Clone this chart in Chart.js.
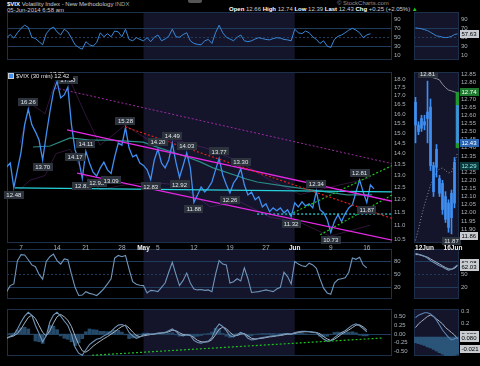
<!DOCTYPE html>
<html lang="en">
<head>
<meta charset="UTF-8">
<title>$VIX 30 min</title>
<script src="https://cdn.jsdelivr.net/npm/chart.js"></script>
<style>
  body { margin: 0; background: #000; width: 480px; height: 366px; overflow: hidden; position: relative;
         font-family: "Liberation Sans", Arial, sans-serif; }
  canvas { position: absolute; }
  .hd { position: absolute; font-size: 6px; line-height: 7px; color: #c9ced4; white-space: nowrap; }
  .hd b { color: #fff; }
</style>
</head>
<body>
<div class="hd" style="left:7px;top:1px"><b>$VIX</b> Volatility Index - New Methodology <span style="color:#9aa">INDX</span></div>
<div class="hd" style="left:7px;top:7px">05-Jun-2014 6:58 am</div>
<div class="hd" style="left:337px;top:0px;color:#8c9096">© StockCharts.com</div>
<div class="hd" style="left:229px;top:6px"><b>Open</b> 12.66 <b>High</b> 12.74 <b>Low</b> 12.39 <b>Last</b> 12.43 <b>Chg</b> +0.25 (+2.05%) <span style="color:#2c2">▲</span></div>
<div style="position:absolute;left:188px;top:0;width:14px;height:3px;background:#555;border-radius:0 0 2px 2px"></div>

<canvas id="rsiL" width="414" height="58" style="left:0;top:12px"></canvas>
<canvas id="rsiR" width="66" height="58" style="left:414px;top:12px"></canvas>
<canvas id="stoL" width="414" height="60" style="left:0;top:249px"></canvas>
<canvas id="stoR" width="66" height="60" style="left:414px;top:249px"></canvas>
<canvas id="macdL" width="414" height="57" style="left:0;top:309px"></canvas>
<canvas id="macdR" width="66" height="57" style="left:414px;top:309px"></canvas>
<canvas id="mainL" width="414" height="181" style="left:0;top:72px"></canvas>
<canvas id="mainR" width="66" height="181" style="left:414px;top:72px"></canvas>

<script>
// ---- time axis: trading days counted from Mon 7 Apr 2014, half-day bars ----
const tickDays   = [0, 5, 9, 14, 17, 19, 24, 29, 34, 38, 43, 48];
const tickLabels = ['7', '14', '21', '28', 'May', '5', '12', '19', '27', 'Jun', '9', '16'];
const monthBand  = [17, 38];          // May is shaded
const firstDay = -2, stepDay = 0.5;

// ---- $VIX 30 min ----
const vix = [13.38, 13.56, 12.48, 13.25, 14.07, 15.42, 16.26, 15.42, 15.06, 14.65,
  13.70, 14.90, 16.10, 17.23, 17.85, 16.88, 17.05, 17.50, 15.42, 14.17,
  13.70, 12.87, 14.11, 13.56, 13.15, 12.98, 13.34, 13.60, 13.25, 13.09,
  13.84, 14.50, 14.40, 15.28, 14.26, 13.84, 13.93, 13.56, 13.45, 13.25,
  12.83, 13.70, 14.20, 13.56, 13.34, 13.70, 14.49, 13.60, 12.92, 13.45,
  14.03, 13.34, 11.88, 12.18, 12.51, 12.30, 12.47, 12.72, 13.25, 13.77,
  13.02, 12.60, 12.26, 12.68, 12.90, 13.30, 12.60, 12.18, 12.30, 11.98,
  12.10, 11.70, 11.82, 11.51, 11.66, 11.55, 11.66, 11.47, 11.59, 11.32,
  11.86, 11.70, 11.90, 11.74, 11.82, 11.66, 12.34, 11.59, 11.47, 11.21,
  10.73, 11.14, 11.40, 11.14, 11.44, 11.66, 11.78, 12.30, 12.81, 12.30,
  11.87, 12.60, 12.43];
const maDays = [1.67, 4.03, 6.81, 9.58, 12.36, 16.94, 19.31, 23.06, 24.86, 26.67, 31.39, 32.78, 37.36, 40.56, 45.28, 48.75];
const maVals = [14.31, 14.36, 14.76, 14.65, 14.65, 14.55, 14.26, 13.84, 13.61, 13.34, 12.84, 12.72, 12.51, 12.38, 12.18, 12.18];
// faint envelope around price
const envDays  = [-0.14, 1.25, 3.33, 4.86, 6.81, 8.89, 10.97, 14.44, 17.92, 22.08, 26.25, 30.42, 34.58, 38.75, 42.92, 48.47];
const envUpper = [14.5, 16.6, 16.0, 18.0, 17.9, 16.0, 14.4, 15.4, 14.6, 14.6, 14.2, 13.6, 12.8, 12.2, 12.5, 12.9];
const envLower = [12.4, 12.8, 13.0, 14.0, 14.2, 13.0, 12.4, 12.6, 12.7, 12.6, 11.7, 11.9, 11.3, 11.1, 10.6, 11.0];
// marked highs (1) and lows (-1)
const marks = [[-1, 12.48, -1], [1, 16.26, 1], [3, 13.70, -1], [5, 17.85, 1], [6.5, 17.50, 1], [7.5, 14.17, -1],
  [8.5, 12.87, -1], [9, 14.11, 1], [10.5, 12.98, -1], [12.5, 13.09, -1], [14.5, 15.28, 1], [18, 12.83, -1],
  [19, 14.20, 1], [21, 14.49, 1], [22, 12.92, -1], [23, 14.03, 1], [24, 11.88, -1], [27.5, 13.77, 1],
  [29, 12.26, -1], [30.5, 13.30, 1], [37.5, 11.32, -1], [41, 12.34, 1], [43, 10.73, -1], [47, 12.81, 1], [48, 11.87, -1]];
const mainTicks = [10.5, 11, 11.5, 12, 12.5, 13, 13.5, 14, 14.5, 15, 15.5, 16, 16.5, 17, 17.5, 18];

// drawn trend lines [day, value]
const fanTop   = [[4.72, 17.46], [52.64, 13.45]];
const redLine  = [[14.44, 15.31], [51.94, 11.21]];
const chUpper  = [[6.39, 15.16], [52.64, 11.85]];
const chLower  = [[7.78, 13.11], [52.64, 10.40]];
const cyanLine = [[-0.83, 12.47], [52.64, 12.30]];
const cyanDash = [[32.78, 11.42], [52.64, 11.42]];
const greenUp  = [[37.78, 11.47], [52.64, 13.62]];
const greenLow = [[41.53, 10.65], [52.64, 12.36]];

// ---- RSI (top) ----
const rsi = [49, 56, 48, 60, 70, 77, 72, 50, 47, 40,
  33, 58, 68, 73, 62, 55, 68, 62, 48, 33,
  27, 23, 40, 33, 30, 38, 60, 51, 58, 51,
  64, 62, 51, 68, 45, 42, 49, 45, 42, 49,
  40, 50, 55, 42, 46, 52, 68, 51, 50, 56,
  60, 42, 36, 34, 33, 42, 45, 36, 60, 77,
  60, 50, 46, 42, 50, 55, 42, 40, 42, 46,
  49, 47, 45, 44, 47, 49, 48, 45, 44, 42,
  68, 60, 58, 64, 60, 51, 45, 36, 42, 30,
  27, 45, 52, 55, 60, 66, 70, 66, 60, 49,
  55, 58];
const rsiTicks = [10, 30, 50, 70, 90];

// ---- Stochastic ----
const sto = [10, 24, 28, 82, 96, 95, 84, 72, 68, 50,
  39, 80, 91, 97, 82, 74, 86, 84, 50, 20,
  1, 2, 10, 6, 4, 1, 8, 17, 28, 40,
  88, 94, 91, 94, 62, 33, 27, 25, 24, 7,
  13, 12, 10, 20, 30, 55, 78, 50, 24, 36,
  53, 30, 16, 14, 15, 13, 14, 10, 50, 82,
  74, 72, 30, 33, 40, 35, 65, 40, 8, 9,
  10, 12, 14, 12, 10, 16, 20, 55, 45, 28,
  80, 74, 70, 68, 76, 72, 64, 40, 18, 7,
  4, 30, 38, 40, 42, 55, 88, 85, 90, 72,
  65];
const stoTicks = [20, 50, 80];

// ---- MACD ----
const macd = [-0.13, -0.06, -0.02, 0.15, 0.35, 0.52, 0.63, 0.54, 0.25, 0.02,
  -0.22, -0.05, 0.35, 0.55, 0.63, 0.52, 0.38, 0.25, 0.0, -0.38,
  -0.55, -0.61, -0.45, -0.30, -0.22, -0.15, -0.12, -0.05, 0.0, 0.08,
  0.18, 0.26, 0.28, 0.24, 0.05, -0.05, -0.12, -0.08, -0.02, 0.0,
  0.0, 0.01, 0.03, 0.04, 0.05, 0.10, 0.15, 0.08, -0.02, -0.05,
  -0.02, -0.04, -0.18, -0.24, -0.26, -0.22, -0.20, -0.10, 0.15, 0.29,
  0.22, 0.10, -0.05, -0.08, -0.02, 0.05, 0.0, -0.12, -0.17, -0.15,
  -0.12, -0.10, -0.08, -0.06, -0.05, -0.04, -0.02, 0.0, 0.02, 0.0,
  0.05, 0.07, 0.08, 0.08, 0.07, 0.05, 0.04, -0.05, -0.14, -0.20,
  -0.19, -0.10, -0.02, 0.05, 0.10, 0.18, 0.26, 0.30, 0.24, 0.16,
  0.07];
const signal = [-0.10, -0.08, -0.05, 0.02, 0.15, 0.32, 0.48, 0.55, 0.45, 0.25,
  0.05, -0.05, 0.10, 0.32, 0.50, 0.57, 0.50, 0.40, 0.22, -0.05,
  -0.30, -0.48, -0.52, -0.45, -0.35, -0.27, -0.20, -0.13, -0.07, 0.0,
  0.07, 0.15, 0.22, 0.26, 0.18, 0.06, -0.04, -0.07, -0.05, -0.03,
  -0.01, 0.0, 0.02, 0.03, 0.04, 0.07, 0.11, 0.10, 0.04, -0.01,
  -0.02, -0.03, -0.10, -0.18, -0.22, -0.23, -0.22, -0.16, -0.02, 0.14,
  0.20, 0.16, 0.05, -0.03, -0.04, 0.0, 0.02, -0.05, -0.12, -0.14,
  -0.13, -0.12, -0.10, -0.08, -0.07, -0.05, -0.04, -0.02, 0.0, 0.0,
  0.02, 0.05, 0.06, 0.07, 0.07, 0.06, 0.05, 0.01, -0.07, -0.14,
  -0.18, -0.15, -0.08, 0.0, 0.06, 0.12, 0.19, 0.26, 0.27, 0.21,
  0.12];
const hist = [-0.03, 0.02, 0.03, 0.12, 0.18, 0.20, 0.15, 0.0, -0.20, -0.22,
  -0.27, 0.0, 0.25, 0.23, 0.13, -0.05, -0.12, -0.15, -0.22, -0.33,
  -0.25, -0.13, 0.07, 0.15, 0.13, 0.12, 0.08, 0.08, 0.07, 0.08,
  0.11, 0.11, 0.06, -0.02, -0.13, -0.11, -0.08, -0.01, 0.03, 0.03,
  0.01, 0.01, 0.01, 0.01, 0.01, 0.03, 0.04, -0.02, -0.06, -0.04,
  0.0, -0.01, -0.08, -0.06, -0.04, 0.01, 0.02, 0.06, 0.17, 0.15,
  0.02, -0.06, -0.10, -0.05, 0.02, 0.05, -0.02, -0.07, -0.05, -0.01,
  0.01, 0.02, 0.02, 0.02, 0.02, 0.01, 0.02, 0.02, 0.02, 0.0,
  0.03, 0.02, 0.02, 0.01, 0.0, -0.01, -0.01, -0.06, -0.07, -0.06,
  -0.01, 0.05, 0.06, 0.05, 0.04, 0.06, 0.07, 0.04, -0.03, -0.05,
  -0.05];
const macdTicks = [-0.5, -0.25, 0, 0.25, 0.5];
const macdTrend = [[9.86, -0.61], [50.28, -0.11]];

// ---- right side: last bars, 12 Jun - 16 Jun ----
const sideTicks  = [3, 12.5];
const sideLabels = ['12Jun', '16Jun'];
const candleOpen  = [12.68, 12.54, 12.58, 12.56, 12.62, 12.65, 12.29, 12.39, 12.21, 12.18, 12.10, 12.06, 12.12, 12.31, 12.43];
const candleClose = [12.54, 12.50, 12.52, 12.54, 12.58, 12.29, 12.13, 12.28, 12.12, 12.02, 11.96, 11.91, 11.97, 12.06, 12.66];
const candleHigh  = [12.71, 12.56, 12.60, 12.60, 12.81, 12.70, 12.31, 12.42, 12.23, 12.20, 12.13, 12.08, 12.14, 12.34, 12.74];
const candleLow   = [12.43, 12.48, 12.50, 12.51, 12.43, 12.26, 12.10, 12.22, 12.10, 11.99, 11.94, 11.88, 11.87, 12.03, 12.40];
const bandTop = [null, null, 12.85, 12.85, 12.84, 12.835, 12.83, 12.825, 12.817, 12.79, 12.77, 12.755, 12.75, 12.743, 12.74];
const bandMid = [11.83, 11.90, 11.98, 12.05, 12.11, 12.17, 12.21, 12.25, 12.27, 12.275, 12.26, 12.245, 12.25, 12.30, 12.37];
const sideTicksMain = [11.85, 11.90, 11.95, 12.00, 12.05, 12.10, 12.15, 12.20, 12.25, 12.30, 12.35, 12.40, 12.45,
  12.50, 12.55, 12.60, 12.65, 12.70, 12.75, 12.80, 12.85];
const sideRsi   = [71, 70, 69, 67, 65, 61, 57, 53, 52, 50, 49, 50, 52, 56, 57.63];
const sideStoK  = [99, 97, 95, 92, 88, 82, 78, 74, 70, 67, 63, 60, 62, 66, 72];
const sideStoD  = [96, 96, 94, 92, 90, 86, 82, 78, 74, 70, 66, 63, 62, 64, 70];
const sideMacd  = [0.25, 0.27, 0.28, 0.29, 0.29, 0.28, 0.26, 0.23, 0.19, 0.15, 0.12, 0.09, 0.07, 0.08, 0.09];
const sideSig   = [0.17, 0.20, 0.22, 0.24, 0.26, 0.27, 0.26, 0.24, 0.22, 0.20, 0.17, 0.15, 0.13, 0.11, 0.08];
const sideHistTop = 0.093;
const sideHist  = [0.047, 0.04, 0.033, 0.025, 0.013, 0.005, -0.007, -0.02, -0.033, -0.045, -0.06, -0.06, -0.06, -0.055, -0.047];

// ---- styling ----
const FONT = '"Liberation Sans", Arial, sans-serif';
const NAVY = '#14142a';
const FRAME = '#1c3149';
const GUIDE = '#1f3c5c';
const BLUE = '#3f8ff2';
const AXC = '#a9b1ba';

const pts = (xs, ys) => ys.map((v, i) => ({ x: xs[i], y: v }));
const seg = p => p.map(([x, y]) => ({ x, y }));
const dayAxis = n => Array.from({ length: n }, (_, i) => firstDay + i * stepDay);
const slots = candleOpen.map((_, i) => i);

const line = (data, color, width, dash, order) => ({
  type: 'line', data, borderColor: color, borderWidth: width, borderDash: dash || [],
  pointRadius: 0, fill: false, tension: 0, order: order || 0
});

const decoPlugin = {
  id: 'deco',
  beforeDraw(chart, args, o) {
    const { ctx, chartArea: a, scales: { x, y } } = chart;
    ctx.save();
    ctx.fillStyle = NAVY;
    if (o.allNavy) ctx.fillRect(a.left, a.top, a.width, a.height);
    else {
      const x0 = x.getPixelForValue(monthBand[0]), x1 = x.getPixelForValue(monthBand[1]);
      ctx.fillRect(x0, a.top, x1 - x0, a.height);
    }
    ctx.lineWidth = 1;
    (o.guides || []).forEach(([v, dashed]) => {
      const py = Math.round(y.getPixelForValue(v)) + 0.5;
      ctx.strokeStyle = GUIDE;
      ctx.setLineDash(dashed ? [2, 2] : []);
      ctx.beginPath(); ctx.moveTo(a.left, py); ctx.lineTo(a.right, py); ctx.stroke();
    });
    ctx.setLineDash([]);
    ctx.strokeStyle = FRAME;
    ctx.strokeRect(a.left + 0.5, a.top + 0.5, a.width - 1, a.height - 1);
    ctx.restore();
  },
  afterDatasetsDraw(chart, args, o) {
    const { ctx, chartArea: a, scales: { x, y } } = chart;
    ctx.save();
    ctx.font = '6px ' + FONT;
    ctx.textBaseline = 'middle';
    (o.marks || []).forEach(([d, v, side]) => {
      const t = v.toFixed(2);
      const w = Math.ceil(ctx.measureText(t).width) + 4;
      const px = x.getPixelForValue(d), py = y.getPixelForValue(v) - side * 7;
      ctx.fillStyle = '#2c333c';
      ctx.fillRect(Math.round(px - w / 2), Math.round(py - 4), w, 8);
      ctx.fillStyle = '#e3e6ea';
      ctx.textAlign = 'center';
      ctx.fillText(t, px, py + 0.5);
    });
    (o.tags || []).forEach(([v, t, bg, fg]) => {
      const py = Math.round(y.getPixelForValue(v));
      const w = Math.ceil(ctx.measureText(t).width) + 3;
      ctx.fillStyle = bg;
      ctx.fillRect(a.right + 1, py - 4, w, 8);
      ctx.fillStyle = fg;
      ctx.textAlign = 'left';
      ctx.fillText(t, a.right + 2.5, py + 0.5);
    });
    if (o.legend) {
      const w = Math.ceil(ctx.measureText(o.legend).width);
      ctx.fillStyle = '#000';
      ctx.fillRect(a.left + 1, a.top + 1, w + 11, 7);
      ctx.fillStyle = BLUE;
      ctx.fillRect(a.left + 2, a.top + 2, 4, 4);
      ctx.strokeStyle = '#ccc';
      ctx.strokeRect(a.left + 1.5, a.top + 1.5, 5, 5);
      ctx.fillStyle = '#e6e6e6';
      ctx.textAlign = 'left';
      ctx.fillText(o.legend, a.left + 9, a.top + 4.5);
    }
    ctx.restore();
  }
};

function xAxis(min, max, show, ticks, labels) {
  const strong = i => /[A-Z]/.test(labels[i]);
  return {
    type: 'linear', min, max, display: show, offset: false,
    grid: { display: false, drawTicks: false, offset: false }, border: { display: false },
    afterBuildTicks: s => { s.ticks = ticks.map(v => ({ value: v })); },
    afterFit: s => { s.height = 10; s.paddingLeft = 0; s.paddingRight = 0; },
    ticks: {
      autoSkip: false, maxRotation: 0, padding: 1,
      callback: v => labels[ticks.indexOf(v)],
      color: c => strong(c.index) ? '#f0f0f0' : AXC,
      font: c => ({ size: 6.5, family: FONT, weight: strong(c.index) ? 'bold' : 'normal' })
    }
  };
}

function yAxis(min, max, ticks, width, fmt, type) {
  return {
    type: type || 'linear', position: 'right', min, max,
    grid: { display: false, drawTicks: false }, border: { display: false },
    afterBuildTicks: s => { s.ticks = ticks.map(v => ({ value: v })); },
    afterFit: s => { s.width = width; s.paddingTop = 0; s.paddingBottom = 0; },
    ticks: { autoSkip: false, padding: 2, color: AXC, font: { size: 6, family: FONT }, callback: fmt || (v => v) }
  };
}

function panel(id, datasets, x, y, deco, padLeft) {
  return new Chart(document.getElementById(id), {
    type: 'line',
    data: { datasets },
    options: {
      responsive: false, animation: false, events: [],
      layout: { padding: { left: padLeft, right: 0, top: 0, bottom: 0 } },
      scales: { x, y },
      plugins: { legend: { display: false }, tooltip: { enabled: false }, deco }
    },
    plugins: [decoPlugin]
  });
}

const LX = (show) => xAxis(-1.95, 51.5, show, tickDays, tickLabels);
const RX = (show) => xAxis(-0.5, 14.5, show, sideTicks, sideLabels);
const grey = '#c8ccd0';

// top: RSI
panel('rsiL', [line(pts(dayAxis(rsi.length), rsi), '#3a88d8', 1)],
  LX(false), yAxis(-1.2, 106.7, rsiTicks, 22),
  { guides: [[70, false], [50, true], [30, false]] }, 7);
panel('rsiR', [line(pts(slots, sideRsi), '#3a88d8', 1)],
  RX(false), yAxis(-1.2, 106.7, rsiTicks, 21),
  { allNavy: true, guides: [[70, false], [50, true], [30, false]], tags: [[57.63, '57.63', grey, '#000']] }, 0);

// price
panel('mainL', [
    line(seg(fanTop), '#9b2aa0', 1, [2, 2]),
    line(seg(redLine), '#e3201c', 1.2, [2, 2]),
    line(seg(chUpper), '#e428e4', 1.3),
    line(seg(chLower), '#e428e4', 1.3),
    line(seg(cyanLine), '#27d3dc', 1.3),
    line(seg(cyanDash), '#27d3dc', 1.3, [2, 2]),
    line(seg(greenUp), '#1fc21f', 1.2, [2, 2]),
    line(seg(greenLow), '#1fc21f', 1.2, [2, 2]),
    line(pts(dayAxis(vix.length), vix), BLUE, 1.3, null, 1),
    line(pts(maDays, maVals), '#2a8c86', 1.2, null, 2),
    line(pts(envDays, envUpper), 'rgba(110,45,130,0.55)', 0.8, null, 3),
    line(pts(envDays, envLower), 'rgba(110,45,130,0.55)', 0.8, null, 3)
  ],
  LX(true), yAxis(10.36, 18.42, mainTicks, 22, v => v.toFixed(1), 'logarithmic'),
  { marks, legend: '$VIX (30 min) 12.42' }, 7);

panel('mainR', [
    { type: 'bar', data: slots.map(i => ({ x: i, y: [candleOpen[i], candleClose[i]] })), backgroundColor: BLUE, barThickness: 2, grouped: false, order: 0 },
    { type: 'bar', data: [{ x: 14, y: [candleLow[14], candleHigh[14]] }], backgroundColor: '#1c9a2c', barThickness: 3, grouped: false, order: 1 },
    { type: 'bar', data: slots.map(i => ({ x: i, y: [candleLow[i], candleHigh[i]] })), backgroundColor: BLUE, barThickness: 1, grouped: false, order: 2 },
    line(pts(slots, bandTop), '#8d8f96', 1, null, 3),
    line(pts(slots, bandMid), '#8d8f96', 1, [1, 2], 3)
  ],
  RX(true), yAxis(11.814, 12.866, sideTicksMain, 21, v => v.toFixed(2)),
  { allNavy: true, marks: [[4, 12.81, 1], [12, 11.87, -1]],
    tags: [[12.74, '12.74', '#1e7a2e', '#fff'], [12.43, '12.43', '#2a64b0', '#fff'],
           [12.29, '12.29', '#0d3a3c', '#8ee'], [11.86, '11.86', grey, '#000']] }, 0);

// stochastics
panel('stoL', [line(pts(dayAxis(sto.length), sto), '#6f95bb', 1.1)],
  LX(false), yAxis(-7.1, 109, stoTicks, 22),
  { guides: [[80, false], [50, true], [20, false]] }, 7);
panel('stoR', [line(pts(slots, sideStoK), '#6f95bb', 1.1), line(pts(slots, sideStoD), '#a9b4c0', 1)],
  RX(false), yAxis(-7.1, 109, stoTicks, 21),
  { allNavy: true, guides: [[80, false], [50, true], [20, false]],
    tags: [[76, '62.08', grey, '#000'], [68, '62.03', grey, '#000']] }, 0);

// MACD
panel('macdL', [
    line(seg(macdTrend), '#1fc21f', 1.2, [2, 2]),
    line(pts(dayAxis(macd.length), macd), '#6f95bb', 1.1, null, 1),
    line(pts(dayAxis(signal.length), signal), '#a9b4c0', 1, null, 1),
    { type: 'bar', data: pts(dayAxis(hist.length), hist), backgroundColor: '#264a6a', barThickness: 3, grouped: false, order: 2 }
  ],
  LX(false), yAxis(-0.631, 0.726, macdTicks, 22, v => v.toFixed(2)),
  { guides: [[0, false]] }, 7);
panel('macdR', [
    line(pts(slots, sideMacd), '#5b87b5', 1.1),
    line(pts(slots, sideSig), '#a9b4c0', 1),
    { type: 'bar', data: slots.map(i => ({ x: i, y: [sideHistTop, sideHist[i]] })), backgroundColor: '#2a5478', barThickness: 3, grouped: false, order: 2 }
  ],
  RX(false), yAxis(-0.06, 0.32, [0, 0.1, 0.2, 0.3], 21, v => v.toFixed(1)),
  { allNavy: true, tags: [[0.113, '0.089', grey, '#000'], [0.087, '0.080', grey, '#000'], [-0.007, '-0.021', grey, '#000']] }, 0);
</script>
</body>
</html>
